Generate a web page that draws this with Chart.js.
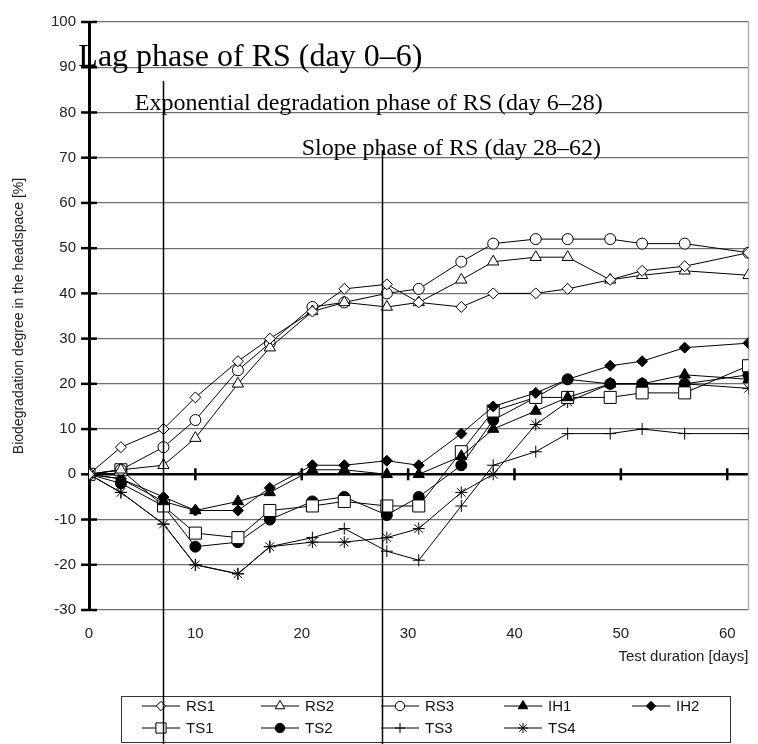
<!DOCTYPE html>
<html>
<head>
<meta charset="utf-8">
<script src="https://cdn.jsdelivr.net/npm/chart.js@4.4.1/dist/chart.umd.min.js"></script>
<style>
html, body { margin: 0; padding: 0; background: #fff; }
#wrap { width: 758px; height: 744px; }
</style>
</head>
<body>
<div id="wrap"><canvas id="chart" width="758" height="744"></canvas></div>
<script>
// sampling days of the test
var days = [0, 3, 7, 10, 14, 17, 21, 24, 28, 31, 35, 38, 42, 45, 49, 52, 56, 62];

// biodegradation degree [%] per sample
var rs1 = [0, 6, 10, 17, 25, 30, 36, 41, 42, 38, 37, 40, 40, 41, 43, 45, 46, 49];
var rs2 = [0, 1, 2, 8, 20, 28, 36, 38, 37, 38, 43, 47, 48, 48, 43, 44, 45, 44];
var rs3 = [0, 1, 6, 12, 23, 29, 37, 38, 40, 41, 47, 51, 52, 52, 52, 51, 51, 49];
var ih1 = [0, -1, -6, -8, -6, -4, 1, 1, 0, 0, 4, 10, 14, 17, 20, 20, 22, 21];
var ih2 = [0, -1, -5, -8, -8, -3, 2, 2, 3, 2, 9, 15, 18, 21, 24, 25, 28, 29];
var ts1 = [0, 1, -7, -13, -14, -8, -7, -6, -7, -7, 5, 14, 17, 17, 17, 18, 18, 24];
var ts2 = [0, -2, -7, -16, -15, -10, -6, -5, -9, -5, 2, 12, 17, 21, 20, 20, 20, 22];
var ts3 = [0, -4, -11, -20, -22, -16, -14, -12, -17, -19, -7, 2, 5, 9, 9, 10, 9, 9];
var ts4 = [0, -4, -11, -20, -22, -16, -15, -15, -14, -12, -4, 0, 11, 16, 20, 20, 20, 19];

// phase boundaries (days) and phase captions
var phaseBounds = [7, 27.5];
var phaseLabels = ["Lag phase of RS (day 0\u20136)", "Exponential degradation phase of RS (day 6\u201328)", "Slope phase of RS (day 28\u201362)"];

var sans = "'Liberation Sans', Arial, sans-serif";
var serif = "'Liberation Serif', 'Times New Roman', serif";

//build one series
function series( label, vals, style, radius, filled ){
	var pts = [];
	for( var i = 0; i < days.length; i++ ) pts.push( { x: days[i], y: vals[i] } );
	return {
		label: label,
		data: pts,
		borderColor: "#000",
		borderWidth: 1,
		pointStyle: style,
		pointRadius: radius,
		pointBackgroundColor: filled ? "#000" : "#fff",
		pointBorderColor: "#000",
		pointBorderWidth: 1,
		fill: false,
		tension: 0
	};
}

var datasets = [
	series( "RS1", rs1, "rectRot", 5.5, false ),
	series( "RS2", rs2, "triangle", 6.5, false ),
	series( "RS3", rs3, "circle", 5.5, false ),
	series( "IH1", ih1, "triangle", 6.5, true ),
	series( "IH2", ih2, "rectRot", 5.5, true ),
	series( "TS1", ts1, "rect", 8.5, false ),
	series( "TS2", ts2, "circle", 5.5, true ),
	series( "TS3", ts3, "cross", 6, false ),
	series( "TS4", ts4, "star", 6, false )
];

//extra drawing: axis crosses, phase lines, captions, boxed legend
var decor = {
	id: "decor",
	beforeDatasetsDraw: function( chart ){
		var ctx = chart.ctx, a = chart.chartArea, xs = chart.scales.x, ys = chart.scales.y;
		ctx.save();
		//right frame
		ctx.strokeStyle = "#b0b0b0";
		ctx.lineWidth = 1.5;
		ctx.beginPath();
		ctx.moveTo( a.right, a.top ); ctx.lineTo( a.right, a.bottom );
		ctx.stroke();
		//ticks on the zero line
		ctx.strokeStyle = "#000";
		ctx.lineWidth = 2.5;
		var y0 = ys.getPixelForValue( 0 );
		for( var d = 10; d <= 60; d += 10 ){
			var px = xs.getPixelForValue( d );
			ctx.beginPath(); ctx.moveTo( px, y0 - 6 ); ctx.lineTo( px, y0 + 6 ); ctx.stroke();
		}
		//cross ticks on the y axis
		for( var v = -30; v <= 100; v += 10 ){
			var py = ys.getPixelForValue( v );
			ctx.beginPath(); ctx.moveTo( a.left - 8, py ); ctx.lineTo( a.left + 8, py ); ctx.stroke();
		}
		ctx.restore();
	},
	afterDraw: function( chart ){
		var ctx = chart.ctx, xs = chart.scales.x, ys = chart.scales.y, H = chart.height;
		ctx.save();

		//legend box
		ctx.strokeStyle = "#333";
		ctx.lineWidth = 1;
		ctx.strokeRect( 121.5, 696.5, 609, 46 );
		var cols = [161, 280, 400, 523, 651], rows = [706, 728];
		ctx.font = "15px " + sans;
		ctx.textBaseline = "middle";
		ctx.textAlign = "left";
		chart.data.datasets.forEach( function( ds, i ){
			var cx = cols[i % 5], cy = rows[Math.floor( i / 5 )];
			ctx.strokeStyle = "#000";
			ctx.lineWidth = 1;
			ctx.beginPath(); ctx.moveTo( cx - 19, cy ); ctx.lineTo( cx + 19, cy ); ctx.stroke();
			ctx.fillStyle = ds.pointBackgroundColor;
			Chart.helpers.drawPoint( ctx, { pointStyle: ds.pointStyle, radius: ds.pointRadius * 0.85, rotation: 0, borderWidth: 1 }, cx, cy );
			ctx.fillStyle = "#111";
			ctx.fillText( ds.label, cx + 25, cy + 1 );
		});

		//phase boundary lines
		ctx.strokeStyle = "#000";
		ctx.lineWidth = 1.5;
		var tops = [81, 150];
		phaseBounds.forEach( function( d, i ){
			var px = Math.round( xs.getPixelForValue( d ) ) + 0.5;
			ctx.beginPath(); ctx.moveTo( px, tops[i] ); ctx.lineTo( px, H ); ctx.stroke();
		});

		//phase captions
		ctx.fillStyle = "#000";
		ctx.textBaseline = "alphabetic";
		ctx.font = "32px " + serif;
		ctx.fillText( phaseLabels[0], xs.getPixelForValue( -1 ), ys.getPixelForValue( 90.3 ) );
		ctx.font = "24px " + serif;
		ctx.fillText( phaseLabels[1], xs.getPixelForValue( 4.3 ), ys.getPixelForValue( 80.6 ) );
		ctx.fillText( phaseLabels[2], xs.getPixelForValue( 20 ), ys.getPixelForValue( 70.5 ) );
		ctx.restore();
	}
};

var chart = new Chart( document.getElementById( "chart" ).getContext( "2d" ), {
	type: "line",
	data: { datasets: datasets },
	plugins: [decor],
	options: {
		responsive: false,
		animation: false,
		devicePixelRatio: 1,
		layout: { padding: { top: 18, right: 7, left: 0, bottom: 0 } },
		plugins: {
			legend: { display: false },
			tooltip: { enabled: false }
		},
		scales: {
			x: {
				type: "linear",
				min: 0,
				max: 62,
				afterFit: function( s ){ s.height = 134; },
				grid: { display: false, drawTicks: false },
				border: { display: false },
				ticks: {
					stepSize: 10,
					includeBounds: false,
					padding: 15,
					maxRotation: 0,
					autoSkip: false,
					color: "#222",
					font: { family: sans, size: 15 }
				},
				title: {
					display: true,
					text: "Test duration [days]",
					align: "end",
					color: "#222",
					font: { family: sans, size: 15 },
					padding: { top: 0, bottom: 78 }
				}
			},
			y: {
				min: -30,
				max: 100,
				afterFit: function( s ){ s.width = 89; },
				grid: {
					drawTicks: false,
					color: function( c ){ return c.tick && c.tick.value === 0 ? "#000" : "#707070"; },
					lineWidth: function( c ){ return c.tick && c.tick.value === 0 ? 2.5 : 1.2; }
				},
				border: { display: true, color: "#000", width: 3 },
				ticks: {
					stepSize: 10,
					padding: 13,
					color: "#222",
					font: { family: sans, size: 15 }
				},
				title: {
					display: true,
					text: "Biodegradation degree in the headspace [%]",
					color: "#222",
					font: { family: sans, size: 14 },
					padding: { top: 11, bottom: 0 }
				}
			}
		}
	}
});
</script>
</body>
</html>
